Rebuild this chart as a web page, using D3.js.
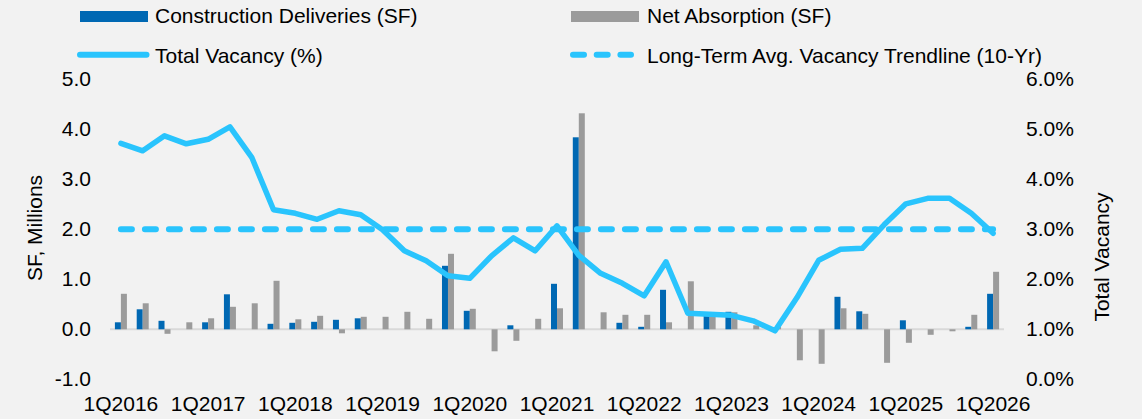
<!DOCTYPE html>
<html>
<head>
<meta charset="utf-8">
<script src="https://cdn.jsdelivr.net/npm/d3@7"></script>
<style>
  html, body { margin: 0; padding: 0; background: #f2f2f2; }
  svg { display: block; font-family: Arial, "Liberation Sans", sans-serif; }
</style>
</head>
<body>
<div id="chart"></div>
<script>
const quarters = [
  "1Q2016", "2Q2016", "3Q2016", "4Q2016", "1Q2017", "2Q2017", "3Q2017", "4Q2017",
  "1Q2018", "2Q2018", "3Q2018", "4Q2018", "1Q2019", "2Q2019", "3Q2019", "4Q2019",
  "1Q2020", "2Q2020", "3Q2020", "4Q2020", "1Q2021", "2Q2021", "3Q2021", "4Q2021",
  "1Q2022", "2Q2022", "3Q2022", "4Q2022", "1Q2023", "2Q2023", "3Q2023", "4Q2023",
  "1Q2024", "2Q2024", "3Q2024", "4Q2024", "1Q2025", "2Q2025", "3Q2025", "4Q2025",
  "1Q2026"
];

// SF, millions
const deliveries = [
  0.14, 0.40, 0.17, 0, 0.14, 0.70, 0, 0.11, 0.13, 0.15, 0.19, 0.22,
  0, 0, 0, 1.27, 0.37, 0, 0.08, 0, 0.91, 3.84, 0, 0.13,
  0.05, 0.79, 0, 0.30, 0.35, 0, 0, 0, 0, 0.65, 0.36, 0,
  0.18, 0, 0, 0.05, 0.71
];

const absorption = [
  0.71, 0.52, -0.09, 0.14, 0.22, 0.45, 0.52, 0.97, 0.20, 0.27, -0.08, 0.25,
  0.25, 0.35, 0.21, 1.51, 0.41, -0.44, -0.23, 0.21, 0.42, 4.32, 0.34, 0.29,
  0.29, 0.14, 0.96, 0.28, 0.34, 0.08, 0.05, -0.62, -0.69, 0.42, 0.31, -0.67,
  -0.27, -0.11, -0.04, 0.29, 1.15
];

// percent
const vacancy = [
  4.72, 4.57, 4.87, 4.71, 4.80, 5.05, 4.44, 3.39, 3.32, 3.20, 3.37, 3.29,
  2.99, 2.57, 2.37, 2.07, 2.02, 2.47, 2.83, 2.57, 3.07, 2.48, 2.12, 1.92,
  1.67, 2.35, 1.32, 1.30, 1.28, 1.17, 0.97, 1.63, 2.38, 2.60, 2.62, 3.09,
  3.51, 3.62, 3.62, 3.32, 2.92
];

const trendVacancy = 3.0;

const leftTicks = [-1, 0, 1, 2, 3, 4, 5];
const rightTicks = [0, 1, 2, 3, 4, 5, 6];
const xTickLabels = ["1Q2016", "1Q2017", "1Q2018", "1Q2019", "1Q2020", "1Q2021",
  "1Q2022", "1Q2023", "1Q2024", "1Q2025", "1Q2026"];

const colors = { deliveries: "#0068b3", absorption: "#9b9b9b", vacancy: "#29c4fd", zero: "#d9d9d9" };

function drawChart() {
  const W = 1142, H = 419;
  const plot = { left: 110, right: 1004, top: 79.3, bottom: 379.3 };

  const svg = d3.select("#chart").append("svg")
    .attr("width", W)
    .attr("height", H);

  svg.append("rect").attr("width", W).attr("height", H).attr("fill", "#f2f2f2");

  const x = d3.scaleBand().domain(quarters).range([plot.left, plot.right]);
  const half = 6;
  const x1 = d3.scaleBand().domain(["deliveries", "absorption"])
    .range([x.bandwidth() / 2 - half, x.bandwidth() / 2 + half]);
  const yL = d3.scaleLinear().domain([-1, 5]).range([plot.bottom, plot.top]);
  const yR = d3.scaleLinear().domain([0, 6]).range([plot.bottom, plot.top]);

  // zero line
  svg.append("line")
    .attr("x1", plot.left).attr("x2", plot.right)
    .attr("y1", yL(0)).attr("y2", yL(0))
    .attr("stroke", colors.zero).attr("stroke-width", 2);

  const rows = quarters.map((q, i) => ({ q, deliveries: deliveries[i], absorption: absorption[i] }));

  ["deliveries", "absorption"].forEach(key => {
    svg.append("g")
      .selectAll("rect")
      .data(rows.filter(d => d[key] !== 0))
      .join("rect")
      .attr("x", d => x(d.q) + x1(key))
      .attr("width", x1.bandwidth())
      .attr("y", d => yL(Math.max(0, d[key])))
      .attr("height", d => Math.abs(yL(d[key]) - yL(0)))
      .attr("fill", colors[key]);
  });

  const cx = q => x(q) + x.bandwidth() / 2;

  // trendline
  svg.append("line")
    .attr("x1", cx(quarters[0])).attr("x2", cx(quarters[quarters.length - 1]))
    .attr("y1", yR(trendVacancy)).attr("y2", yR(trendVacancy))
    .attr("stroke", colors.vacancy)
    .attr("stroke-width", 6)
    .attr("stroke-linecap", "round")
    .attr("stroke-dasharray", "11,13");

  svg.append("path")
    .datum(vacancy)
    .attr("fill", "none")
    .attr("stroke", colors.vacancy)
    .attr("stroke-width", 5.5)
    .attr("stroke-linejoin", "round")
    .attr("stroke-linecap", "round")
    .attr("d", d3.line().x((d, i) => cx(quarters[i])).y(d => yR(d)));

  // axes
  const fontSize = 21;
  const leftAxis = svg.append("g")
    .attr("transform", `translate(${plot.left - 19},0)`)
    .call(d3.axisLeft(yL).tickValues(leftTicks).tickFormat(d => d.toFixed(1)).tickSize(0).tickPadding(0));
  const rightAxis = svg.append("g")
    .attr("transform", `translate(1026,0)`)
    .call(d3.axisRight(yR).tickValues(rightTicks).tickFormat(d => d.toFixed(1) + "%").tickSize(0).tickPadding(0));
  const bottomAxis = svg.append("g")
    .attr("transform", `translate(0,${plot.bottom})`)
    .call(d3.axisBottom(x).tickValues(xTickLabels).tickSize(0).tickPadding(0));

  [leftAxis, rightAxis, bottomAxis].forEach(g => {
    g.select(".domain").remove();
    g.selectAll("text")
      .attr("fill", "#000")
      .style("font-size", `${fontSize}px`)
      .style("font-family", "Arial, 'Liberation Sans', sans-serif");
  });
  leftAxis.selectAll("text").attr("dy", "0.28em");
  rightAxis.selectAll("text").attr("dy", "0.28em");
  bottomAxis.selectAll("text").attr("y", 32).attr("dy", 0);

  svg.append("text")
    .attr("transform", "translate(42,228) rotate(-90)")
    .attr("text-anchor", "middle")
    .style("font-size", `${fontSize}px`)
    .text("SF, Millions");

  svg.append("text")
    .attr("transform", "translate(1108.5,257) rotate(-90)")
    .attr("text-anchor", "middle")
    .style("font-size", `${fontSize}px`)
    .text("Total Vacancy");

  // legend
  const legend = svg.append("g").style("font-size", `${fontSize}px`);
  legend.append("rect").attr("x", 80).attr("y", 11).attr("width", 68).attr("height", 11).attr("fill", colors.deliveries);
  legend.append("text").attr("x", 155).attr("y", 22.7).text("Construction Deliveries (SF)");
  legend.append("rect").attr("x", 571).attr("y", 11).attr("width", 68).attr("height", 11).attr("fill", colors.absorption);
  legend.append("text").attr("x", 647).attr("y", 22.7).text("Net Absorption (SF)");

  legend.append("line").attr("x1", 80).attr("x2", 146.5).attr("y1", 54.7).attr("y2", 54.7)
    .attr("stroke", colors.vacancy).attr("stroke-width", 6).attr("stroke-linecap", "round");
  legend.append("text").attr("x", 155).attr("y", 62.5).text("Total Vacancy (%)");
  legend.append("line").attr("x1", 573).attr("x2", 631).attr("y1", 54.7).attr("y2", 54.7)
    .attr("stroke", colors.vacancy).attr("stroke-width", 6).attr("stroke-linecap", "round")
    .attr("stroke-dasharray", "11,12.7");
  legend.append("text").attr("x", 647).attr("y", 62.5).text("Long-Term Avg. Vacancy Trendline (10-Yr)");
}

drawChart();
</script>
</body>
</html>
